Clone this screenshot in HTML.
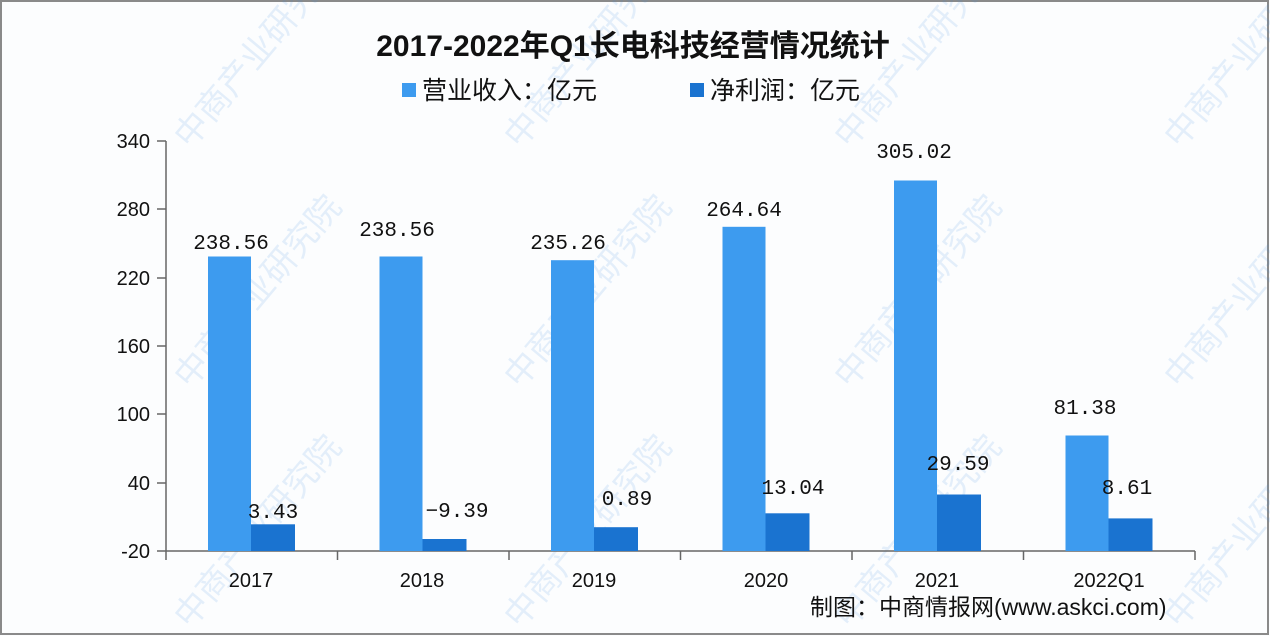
<!DOCTYPE html>
<html><head><meta charset="utf-8"><style>
html,body{margin:0;padding:0;background:#fff}
svg{display:block}
</style></head><body>
<svg width="1270" height="636" viewBox="0 0 1270 636" xmlns="http://www.w3.org/2000/svg">
<rect x="0" y="0" width="1270" height="636" fill="#fcfdfe"/>
<rect x="1" y="1" width="1267" height="633" fill="none" stroke="#8a8a8a" stroke-width="2"/>
<g opacity="0.13" font-family="Liberation Sans, Noto Sans CJK SC, sans-serif" font-size="34" fill="#3d8fe0">
<text transform="translate(190,390) rotate(-50)">中商产业研究院</text>
<text transform="translate(520,390) rotate(-50)">中商产业研究院</text>
<text transform="translate(850,390) rotate(-50)">中商产业研究院</text>
<text transform="translate(190,150) rotate(-50)">中商产业研究院</text>
<text transform="translate(520,150) rotate(-50)">中商产业研究院</text>
<text transform="translate(850,150) rotate(-50)">中商产业研究院</text>
<text transform="translate(1180,150) rotate(-50)">中商产业研究院</text>
<text transform="translate(1180,390) rotate(-50)">中商产业研究院</text>
<text transform="translate(190,630) rotate(-50)">中商产业研究院</text>
<text transform="translate(520,630) rotate(-50)">中商产业研究院</text>
<text transform="translate(850,630) rotate(-50)">中商产业研究院</text>
<text transform="translate(1180,630) rotate(-50)">中商产业研究院</text>
</g>
<text x="633" y="56" text-anchor="middle" font-family="Liberation Sans, Noto Sans CJK SC, sans-serif" font-size="30" font-weight="bold" fill="#111">2017-2022年Q1长电科技经营情况统计</text>
<rect x="402" y="83" width="14" height="14" fill="#3d9bef"/>
<text x="422" y="99" font-family="Liberation Sans, Noto Sans CJK SC, sans-serif" font-size="25" fill="#111">营业收入：亿元</text>
<rect x="690" y="83" width="14" height="14" fill="#1a73d0"/>
<text x="710" y="99" font-family="Liberation Sans, Noto Sans CJK SC, sans-serif" font-size="25" fill="#111">净利润：亿元</text>
<g font-family="Liberation Sans, sans-serif" font-size="20" fill="#111" text-anchor="end">
<text x="150" y="148">340</text><text x="150" y="216">280</text><text x="150" y="285">220</text>
<text x="150" y="353">160</text><text x="150" y="421">100</text><text x="150" y="490">40</text><text x="150" y="558">-20</text>
</g>
<g stroke="#666" stroke-width="1.5" fill="none">
<line x1="166" y1="141" x2="166" y2="551"/>
<line x1="166" y1="551" x2="1195" y2="551"/>
<path d="M157 141H166M157 209H166M157 278H166M157 346H166M157 414H166M157 483H166M157 551H166"/>
<path d="M166 551V560M337.5 551V560M509 551V560M680.5 551V560M852 551V560M1023.5 551V560M1195 551V560"/>
</g>
<g fill="#3d9bef">
<rect x="208" y="256.5" width="43" height="294.5"/>
<rect x="379.5" y="256.5" width="43" height="294.5"/>
<rect x="551" y="260.2" width="43" height="290.8"/>
<rect x="722.5" y="226.8" width="43" height="324.2"/>
<rect x="894" y="180.5" width="43" height="370.5"/>
<rect x="1065.5" y="435.5" width="43" height="115.5"/>
</g>
<g fill="#1a73d0">
<rect x="251" y="524.3" width="44" height="26.7"/>
<rect x="422.5" y="539" width="44" height="12"/>
<rect x="594" y="527.2" width="44" height="23.8"/>
<rect x="765.5" y="513.3" width="44" height="37.7"/>
<rect x="937" y="494.5" width="44" height="56.5"/>
<rect x="1108.5" y="518.4" width="44" height="32.6"/>
</g>
<g font-family="Liberation Mono, monospace" font-size="21" fill="#111" text-anchor="middle">
<text x="231" y="249">238.56</text>
<text x="397" y="236">238.56</text>
<text x="568" y="249">235.26</text>
<text x="744" y="216">264.64</text>
<text x="914" y="158">305.02</text>
<text x="1085" y="414">81.38</text>
<text x="273" y="518">3.43</text>
<text x="457" y="517">−9.39</text>
<text x="627" y="505">0.89</text>
<text x="793" y="494">13.04</text>
<text x="958" y="470">29.59</text>
<text x="1127" y="494">8.61</text>
</g>
<g font-family="Liberation Sans, sans-serif" font-size="20" fill="#111" text-anchor="middle">
<text x="251" y="587">2017</text><text x="422" y="587">2018</text><text x="594" y="587">2019</text>
<text x="766" y="587">2020</text><text x="937" y="587">2021</text><text x="1109" y="587">2022Q1</text>
</g>
<text x="810" y="615" font-family="Liberation Sans, Noto Sans CJK SC, sans-serif" font-size="23" fill="#111">制图：中商情报网(www.askci.com)</text>
</svg>
</body></html>
